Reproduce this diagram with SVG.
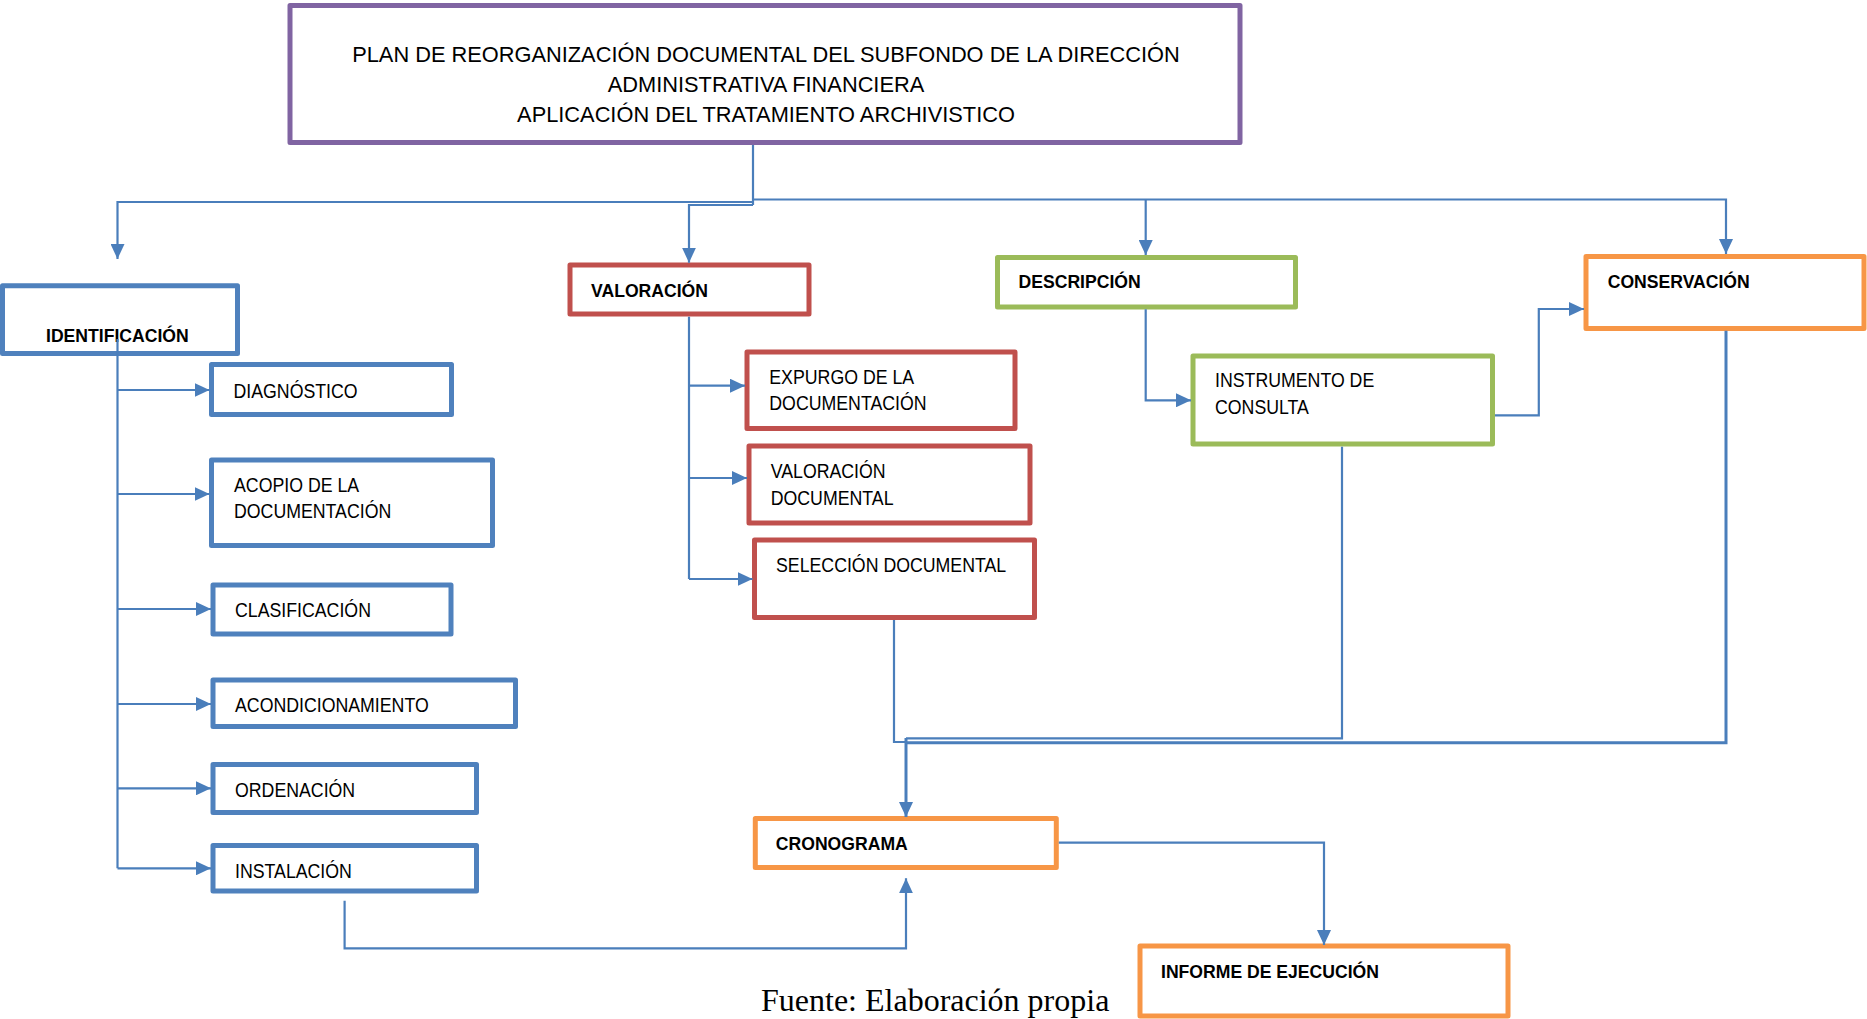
<svg xmlns="http://www.w3.org/2000/svg" width="1867" height="1019" viewBox="0 0 1867 1019">
<style>
.box{fill:#fff;stroke-width:5;stroke-linejoin:round}
.blue{stroke:#4F81BD}.red{stroke:#C0504D}.green{stroke:#9BBB59}.orange{stroke:#F79646}.purple{stroke:#8064A2}
.t{font-family:"Liberation Sans",Arial,sans-serif;font-size:19.5px;fill:#000}
.b{font-family:"Liberation Sans",Arial,sans-serif;font-size:17.6px;font-weight:bold;fill:#000}
.title{font-family:"Liberation Sans",Arial,sans-serif;font-size:21.8px;fill:#000;text-anchor:middle}
.src{font-family:"Liberation Serif","Times New Roman",serif;font-size:32px;fill:#000}
.c{fill:none;stroke:#4A7EBB;stroke-width:2.2}
.ca{fill:none;stroke:#4A7EBB;stroke-width:2.2;marker-end:url(#ah)}
.thick{stroke-width:3}
</style>
<defs>
<marker id="ah" viewBox="0 0 15 14" refX="15" refY="7" markerWidth="15" markerHeight="14" markerUnits="userSpaceOnUse" orient="auto">
<path d="M0,0 L15,7 L0,14 z" fill="#4A7EBB"/>
</marker>
</defs>

<g id="title">
<rect class="box purple" x="290" y="5.5" width="950" height="137"/>
<text class="title" x="766" y="61.7">PLAN DE REORGANIZACIÓN DOCUMENTAL DEL SUBFONDO DE LA DIRECCIÓN</text>
<text class="title" x="766" y="91.7">ADMINISTRATIVA FINANCIERA</text>
<text class="title" x="766" y="121.7">APLICACIÓN DEL TRATAMIENTO ARCHIVISTICO</text>
</g>

<g id="identificacion">
<rect class="box blue" x="2.5" y="285.8" width="235" height="67.7"/>
<text class="b" x="46" y="342.3">IDENTIFICACIÓN</text>
</g>
<g id="diagnostico">
<rect class="box blue" x="211.5" y="364.5" width="240" height="50"/>
<text class="t" transform="translate(233.5 397.5) scale(0.91 1)">DIAGNÓSTICO</text>
</g>
<g id="acopio">
<rect class="box blue" x="211.5" y="460" width="281" height="85.5"/>
<text class="t" transform="translate(234 491.7) scale(0.91 1)"><tspan x="0" y="0">ACOPIO DE LA</tspan><tspan x="0" y="26.6">DOCUMENTACIÓN</tspan></text>
</g>
<g id="clasificacion">
<rect class="box blue" x="213" y="585" width="238" height="49"/>
<text class="t" transform="translate(235 617) scale(0.91 1)">CLASIFICACIÓN</text>
</g>
<g id="acondicionamiento">
<rect class="box blue" x="213" y="680" width="302.5" height="46.5"/>
<text class="t" transform="translate(235 711.7) scale(0.91 1)">ACONDICIONAMIENTO</text>
</g>
<g id="ordenacion">
<rect class="box blue" x="213" y="764.5" width="263.5" height="48"/>
<text class="t" transform="translate(235 796.7) scale(0.91 1)">ORDENACIÓN</text>
</g>
<g id="instalacion">
<rect class="box blue" x="213" y="845.5" width="263.5" height="45.5"/>
<text class="t" transform="translate(235 878) scale(0.91 1)">INSTALACIÓN</text>
</g>

<g id="valoracion">
<rect class="box red" x="570" y="265" width="239" height="49"/>
<text class="b" x="591" y="297.3">VALORACIÓN</text>
</g>
<g id="expurgo">
<rect class="box red" x="747" y="352" width="268" height="76.5"/>
<text class="t" transform="translate(769.3 384) scale(0.91 1)"><tspan x="0" y="0">EXPURGO DE LA</tspan><tspan x="0" y="26">DOCUMENTACIÓN</tspan></text>
</g>
<g id="valoracion-documental">
<rect class="box red" x="749" y="446" width="281" height="77"/>
<text class="t" transform="translate(770.7 478.3) scale(0.91 1)"><tspan x="0" y="0">VALORACIÓN</tspan><tspan x="0" y="26.7">DOCUMENTAL</tspan></text>
</g>
<g id="seleccion">
<rect class="box red" x="754.5" y="540" width="280" height="77.5"/>
<text class="t" transform="translate(776 571.7) scale(0.91 1)">SELECCIÓN DOCUMENTAL</text>
</g>

<g id="descripcion">
<rect class="box green" x="997.5" y="257.5" width="298" height="49.5"/>
<text class="b" x="1018.5" y="288.3">DESCRIPCIÓN</text>
</g>
<g id="instrumento">
<rect class="box green" x="1193" y="356" width="299.5" height="88"/>
<text class="t" transform="translate(1215 387.3) scale(0.91 1)"><tspan x="0" y="0">INSTRUMENTO DE</tspan><tspan x="0" y="26.7">CONSULTA</tspan></text>
</g>

<g id="conservacion">
<rect class="box orange" x="1586" y="256.5" width="278" height="72"/>
<text class="b" x="1607.7" y="288.3">CONSERVACIÓN</text>
</g>
<g id="cronograma">
<rect class="box orange" x="755.3" y="818.5" width="301" height="49"/>
<text class="b" x="775.8" y="850">CRONOGRAMA</text>
</g>
<g id="informe">
<rect class="box orange" x="1140" y="946" width="368" height="70"/>
<text class="b" x="1161" y="978.3">INFORME DE EJECUCIÓN</text>
</g>

<text class="src" x="761" y="1011">Fuente: Elaboración propia</text>

<g id="connectors">
<path class="c" d="M753,145 V205"/>
<path class="ca" d="M753,202 H117.5 V259"/>
<path class="ca" d="M753,205 H689 V262.7"/>
<path class="ca" d="M753,199.5 H1726 V254"/>
<path class="ca" d="M1145.7,199.5 V255"/>
<path class="c" d="M117.5,339 V868.3"/>
<path class="ca" d="M117.5,390 H209.5"/>
<path class="ca" d="M117.5,494 H209.5"/>
<path class="ca" d="M117.5,609 H211"/>
<path class="ca" d="M117.5,704 H211"/>
<path class="ca" d="M117.5,788.3 H211"/>
<path class="ca" d="M117.5,868.3 H211"/>
<path class="c" d="M689,316.7 V579"/>
<path class="ca" d="M689,385.7 H745"/>
<path class="ca" d="M689,478 H747"/>
<path class="ca" d="M689,579 H752.5"/>
<path class="ca" d="M1145.7,309.3 V400.3 H1191"/>
<path class="ca" d="M1495,415.3 H1538.8 V309 H1584"/>
<path class="c" d="M894,620 V742 H906"/>
<path class="c" d="M1342,446.7 V738.3 H906"/>
<path class="c thick" d="M1726,330.7 V742.7 H906"/>
<path class="ca thick" d="M906,738 V817"/>
<path class="ca" d="M344.6,900.7 V948.3 H906 V878.3"/>
<path class="ca" d="M1058.8,842.7 H1324 V945"/>
</g>
</svg>
